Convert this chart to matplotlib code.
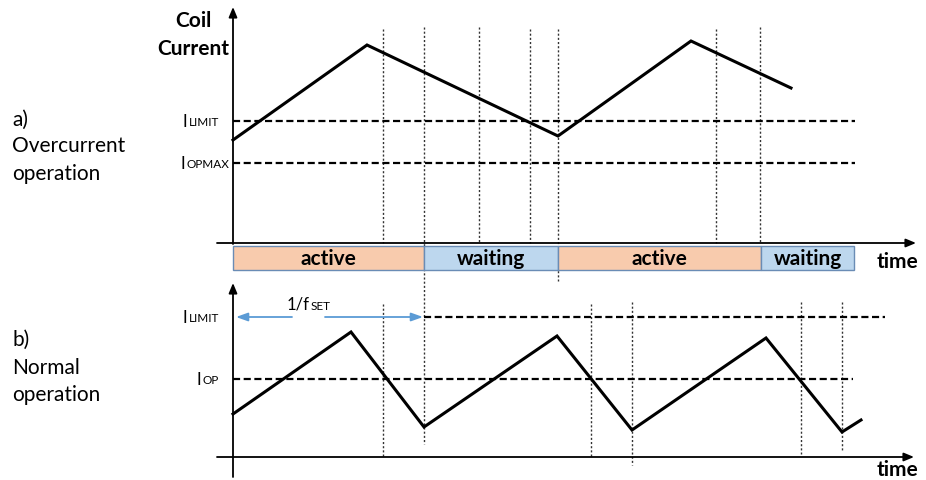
#!/usr/bin/env python3
"""Coil current timing diagram: overcurrent vs normal operation."""

import matplotlib.pyplot as plt

# Canvas (pixel-like units, y pointing down)
W, H = 926, 481

# Font / colours
FONT = ['Lato', 'DejaVu Sans']
COLOR_ACTIVE = '#F8CBAD'
COLOR_WAIT = '#BDD7EE'
COLOR_EDGE = '#6A8CB5'
COLOR_ARROW = '#5B9BD5'

# ---- panel a) overcurrent ----
t_a = [233, 367, 558, 691, 791]
i_a = [141, 46, 137, 42, 89]
ilimit_a = 122
iopmax_a = 164
level_end_a = 855
# (time, top) of dotted markers, all ending on the time axis or below
mark_a_x = [383, 479, 530, 558, 716, 760]
mark_a_top = [30, 28, 30, 30, 30, 28]
mark_a_bot = [244, 244, 244, 282, 244, 244]
# phase bar
phase_labels = ['active', 'waiting', 'active', 'waiting']
phase_start = [233, 424, 558, 761]
phase_end = [424, 558, 761, 854]

# ---- panel b) normal ----
t_b = [233, 351, 424, 557, 632, 766, 842, 861]
i_b = [415, 333, 428, 337, 431, 339, 433, 421]
ilimit_b = 318
iop_b = 380
ilimit_b_span = (424, 885)
iop_b_span = (233, 853)
mark_b_x = [383, 591, 632, 801, 842]
mark_b_top = [305, 305, 303, 303, 303]
mark_b_bot = [458, 458, 466, 455, 453]
period = (236, 423)

AXIS_A_Y, AXIS_B_Y, AXIS_X = 244, 458, 233

fig = plt.figure(figsize=(W / 100, H / 100), dpi=100)
ax = fig.add_axes([0, 0, 1, 1])
ax.set_xlim(0, W)
ax.set_ylim(H, 0)
ax.axis('off')

arrow = dict(arrowstyle='-|>,head_length=0.6,head_width=0.25',
             color='black', lw=1.3, shrinkA=0, shrinkB=0)

# axes
ax.annotate('', xy=(AXIS_X, 8), xytext=(AXIS_X, AXIS_A_Y + 1), arrowprops=arrow)
ax.annotate('', xy=(916, AXIS_A_Y), xytext=(217, AXIS_A_Y), arrowprops=arrow)
ax.annotate('', xy=(AXIS_X, 284), xytext=(AXIS_X, 478), arrowprops=arrow)
ax.annotate('', xy=(914, AXIS_B_Y), xytext=(217, AXIS_B_Y), arrowprops=arrow)

# dotted markers
dot = dict(color='#333333', lw=1.0, ls=(0, (1.5, 1.5)), zorder=1)
for x, y0, y1 in zip(mark_a_x, mark_a_top, mark_a_bot):
    ax.plot([x, x], [y0, y1], **dot)
for x, y0, y1 in zip(mark_b_x, mark_b_top, mark_b_bot):
    ax.plot([x, x], [y0, y1], **dot)
# the 424 marker runs through both panels
ax.plot([424, 424], [28, 445], **dot)

# current levels
dash = dict(color='black', lw=1.6, dashes=(3.2, 1.6), zorder=2)
ax.plot([AXIS_X, level_end_a], [ilimit_a, ilimit_a], **dash)
ax.plot([AXIS_X, level_end_a], [iopmax_a, iopmax_a], **dash)
ax.plot(ilimit_b_span, [ilimit_b, ilimit_b], **dash)
ax.plot(iop_b_span, [iop_b, iop_b], **dash)

# waveforms
ax.plot(t_a, i_a, color='black', lw=2.2, solid_joinstyle='miter', zorder=3)
ax.plot(t_b, i_b, color='black', lw=2.2, solid_joinstyle='miter', zorder=3)

# phase bar
for lab, x0, x1 in zip(phase_labels, phase_start, phase_end):
    fc = COLOR_ACTIVE if lab == 'active' else COLOR_WAIT
    ax.add_patch(plt.Rectangle((x0, 247), x1 - x0, 24, facecolor=fc,
                               edgecolor=COLOR_EDGE, lw=1.0, zorder=2))
    ax.text((x0 + x1) / 2, 259, lab, ha='center', va='center', fontsize=15,
            fontweight='bold', family=FONT, zorder=4)

# period arrow 1/fSET
blue = dict(arrowstyle='-|>,head_length=0.7,head_width=0.25', color=COLOR_ARROW,
            lw=1.3, shrinkA=0, shrinkB=0)
ax.annotate('', xy=(period[0], ilimit_b), xytext=(292, ilimit_b), arrowprops=blue)
ax.annotate('', xy=(period[1], ilimit_b), xytext=(325, ilimit_b), arrowprops=blue)
ax.text(287, 305, '1/f', ha='left', va='center', fontsize=12, family=FONT)
ax.text(311, 306.5, 'SET', ha='left', va='center', fontsize=8.5, family=FONT)


def level_label(x, y, sub):
    ax.text(x, y, 'I', ha='left', va='center', fontsize=12, family=FONT)
    ax.text(x + 5.5, y + 0.5, sub, ha='left', va='center', fontsize=8.5, family=FONT)


level_label(183, ilimit_a, 'LIMIT')
level_label(181, iopmax_a, 'OPMAX')
level_label(183, ilimit_b, 'LIMIT')
level_label(197, iop_b, 'OP')

# titles / axis names
ax.text(193, 21, 'Coil', ha='center', va='center', fontsize=15,
        fontweight='bold', family=FONT)
ax.text(193, 49, 'Current', ha='center', va='center', fontsize=15,
        fontweight='bold', family=FONT)
ax.text(877, 262, 'time', ha='left', va='center', fontsize=15,
        fontweight='bold', family=FONT)
ax.text(877, 470, 'time', ha='left', va='center', fontsize=15,
        fontweight='bold', family=FONT)

for y, s in zip([120, 146, 174], ['a)', 'Overcurrent', 'operation']):
    ax.text(12, y, s, ha='left', va='center', fontsize=15, family=FONT)
for y, s in zip([340, 368, 395], ['b)', 'Normal', 'operation']):
    ax.text(12, y, s, ha='left', va='center', fontsize=15, family=FONT)

fig.savefig('out.png', dpi=100)
